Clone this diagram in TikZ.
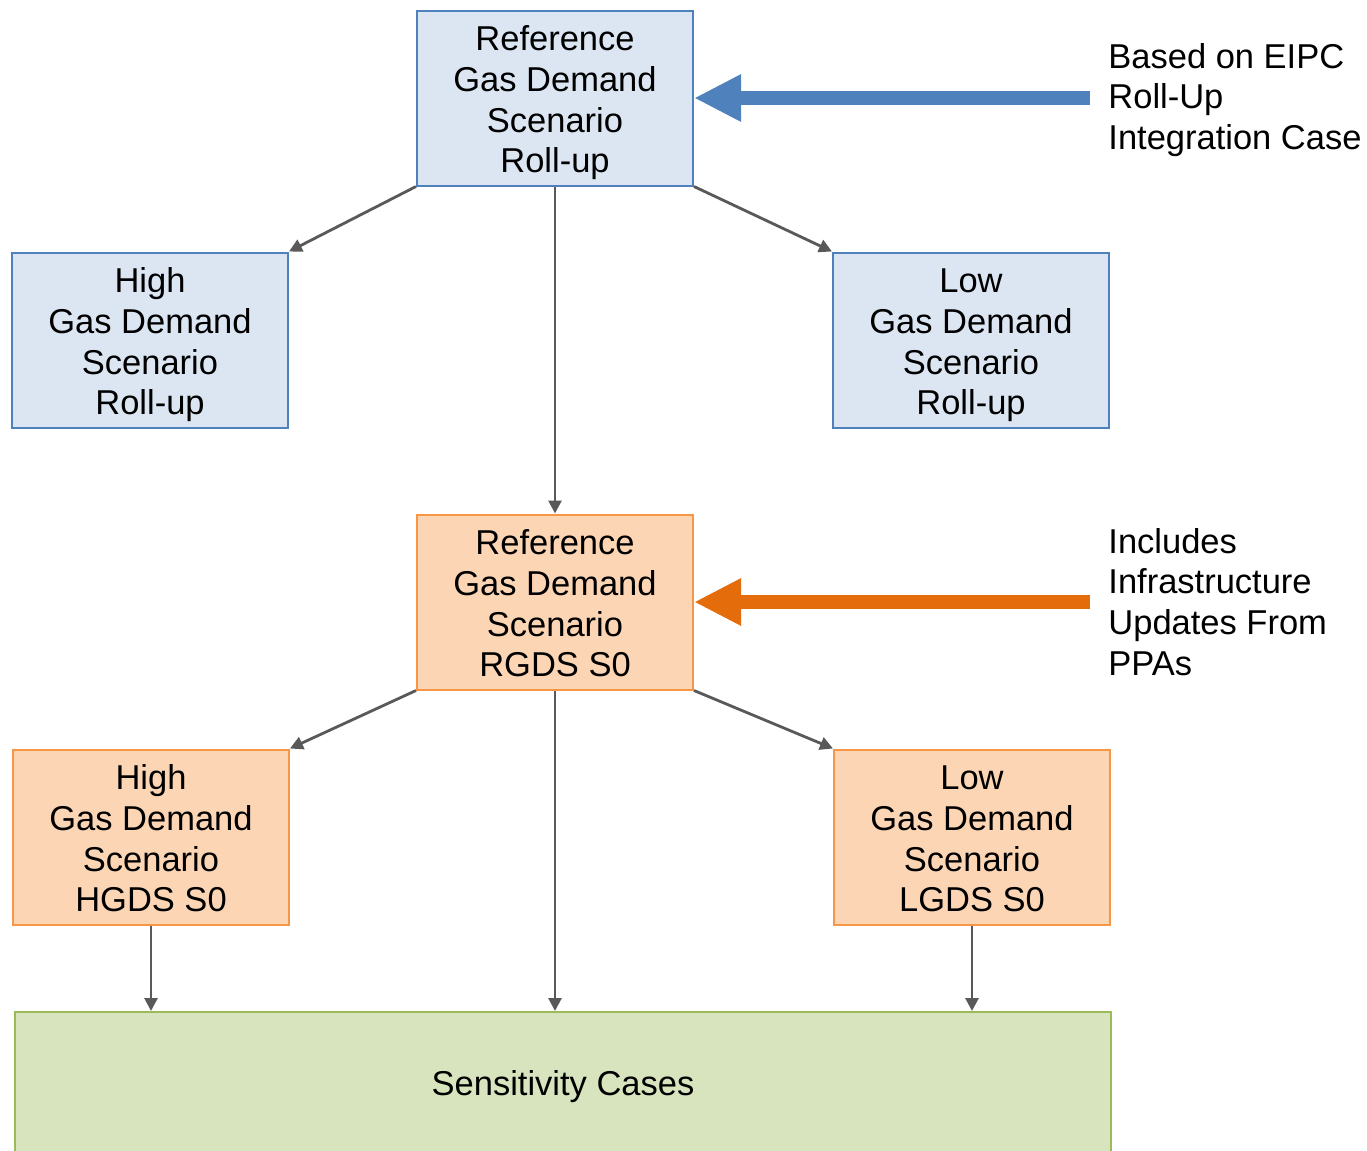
\documentclass[tikz,border=0pt]{standalone}
\usepackage{fontspec}
\setmainfont{Liberation Sans}
\usetikzlibrary{arrows.meta,positioning}

\definecolor{bluefill}{HTML}{DCE6F2}
\definecolor{blueline}{HTML}{4F81BD}
\definecolor{orangefill}{HTML}{FCD5B5}
\definecolor{orangeline}{HTML}{F79646}
\definecolor{orangearrow}{HTML}{E46C0A}
\definecolor{greenfill}{HTML}{D7E4BD}
\definecolor{greenline}{HTML}{9BBB59}
\definecolor{linkgray}{HTML}{595959}

% box text, set a little lower than the box centre
\newcommand{\scentext}[1]{\raisebox{-2.8pt}[\height][\depth]{%
  \begin{tabular}{@{}c@{}}#1\end{tabular}}}

\begin{document}
\begin{tikzpicture}[x=0.5pt,y=-0.5pt,
every node/.style={font=\fontsize{17.25pt}{20.4pt}\selectfont},
scen/.style={draw,line width=1pt,inner sep=0pt,
  minimum width=138pt,minimum height=87.5pt},
bluebox/.style={scen,draw=blueline,fill=bluefill},
orangebox/.style={scen,draw=orangeline,fill=orangefill},
note/.style={align=left,inner sep=0pt,anchor=west},
link/.style={draw=linkgray,line width=1.4pt,-{Triangle[length=6.5pt,width=6.5pt]}},
fat/.style={line width=7pt,-{Triangle[length=23.5pt,width=22pt]}}]
\useasboundingbox (0,0) rectangle (1367,1151);
% roll-up scenarios
\node[bluebox] (refb) at (555,98) {\scentext{Reference\\Gas Demand\\Scenario\\Roll-up}};
\node[bluebox] (highb) at (150,340) {\scentext{High\\Gas Demand\\Scenario\\Roll-up}};
\node[bluebox] (lowb) at (971,340) {\scentext{Low\\Gas Demand\\Scenario\\Roll-up}};
% S0 scenarios
\node[orangebox] (refo) at (555,602) {\scentext{Reference\\Gas Demand\\Scenario\\RGDS S0}};
\node[orangebox] (higho) at (151,837) {\scentext{High\\Gas Demand\\Scenario\\HGDS S0}};
\node[orangebox] (lowo) at (972,837) {\scentext{Low\\Gas Demand\\Scenario\\LGDS S0}};
\node[draw=greenline,fill=greenfill,line width=1pt,minimum width=548pt,
  minimum height=75pt] (sens) at (563,1087) {Sensitivity Cases};
% side notes
\node[note] (noteb) at (1108,100) {Based on EIPC\\Roll-Up\\Integration Case};
\node[note] (noteo) at (1108,602) {Includes\\Infrastructure\\Updates From\\PPAs};
\draw[fat,blueline] ([xshift=-9pt]noteb.west |- refb.east) -- (refb.east);
\draw[fat,orangearrow] ([xshift=-9pt]noteo.west |- refo.east) -- (refo.east);
% links
\draw[link] (refb.south west) -- (highb.north east);
\draw[link] (refb.south east) -- (lowb.north west);
\draw[link] (refb.south) -- (refo.north);
\draw[link] (refo.south west) -- (higho.north east);
\draw[link] (refo.south east) -- (lowo.north west);
\draw[link] (refo.south) -- (refo.south |- sens.north);
\draw[link] (higho.south) -- (higho.south |- sens.north);
\draw[link] (lowo.south) -- (lowo.south |- sens.north);
\end{tikzpicture}
\end{document}
